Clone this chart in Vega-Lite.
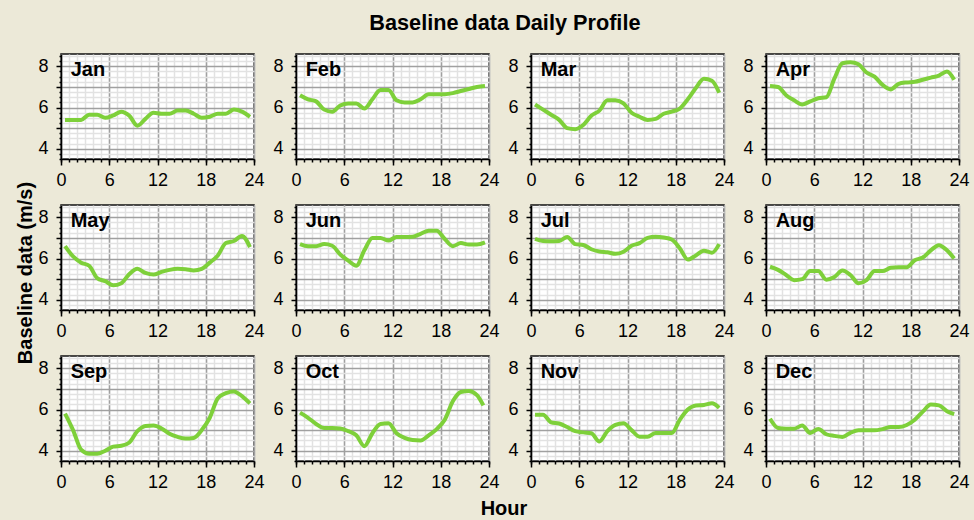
{
  "$schema": "https://vega.github.io/schema/vega-lite/v6.json",
  "background": "#ECE9D8",
  "padding": {"left": 15, "top": 12, "right": 5, "bottom": 5},
  "title": {"text": "Baseline data Daily Profile", "fontSize": 21.7, "fontWeight": "bold", "font": "Liberation Sans", "color": "black", "offset": 19, "anchor": "middle", "dx": 12},
  "config": {
    "view": {"stroke": "#111111", "strokeWidth": 1.5, "fill": "white"},
    "font": "Liberation Sans",
    "axis": {"labelFont": "Liberation Sans", "labelColor": "black", "tickColor": "black", "domainColor": "black"}
  },
  "data": {"values": [
    {"m":"Jan","h":0.5,"v":5.4},{"m":"Jan","h":1.5,"v":5.4},{"m":"Jan","h":2.5,"v":5.4},{"m":"Jan","h":3.5,"v":5.65},{"m":"Jan","h":4.5,"v":5.65},{"m":"Jan","h":5.5,"v":5.5},{"m":"Jan","h":6.5,"v":5.62},{"m":"Jan","h":7.5,"v":5.8},{"m":"Jan","h":8.5,"v":5.6},{"m":"Jan","h":9.5,"v":5.12},{"m":"Jan","h":10.5,"v":5.45},{"m":"Jan","h":11.5,"v":5.75},{"m":"Jan","h":12.5,"v":5.7},{"m":"Jan","h":13.5,"v":5.7},{"m":"Jan","h":14.5,"v":5.85},{"m":"Jan","h":15.5,"v":5.85},{"m":"Jan","h":16.5,"v":5.7},{"m":"Jan","h":17.5,"v":5.5},{"m":"Jan","h":18.5,"v":5.55},{"m":"Jan","h":19.5,"v":5.7},{"m":"Jan","h":20.5,"v":5.7},{"m":"Jan","h":21.5,"v":5.9},{"m":"Jan","h":22.5,"v":5.8},{"m":"Jan","h":23.5,"v":5.55},
    {"m":"Feb","h":0.5,"v":6.6},{"m":"Feb","h":1.5,"v":6.4},{"m":"Feb","h":2.5,"v":6.3},{"m":"Feb","h":3.5,"v":5.9},{"m":"Feb","h":4.5,"v":5.8},{"m":"Feb","h":5.5,"v":6.1},{"m":"Feb","h":6.5,"v":6.2},{"m":"Feb","h":7.5,"v":6.2},{"m":"Feb","h":8.5,"v":5.95},{"m":"Feb","h":9.5,"v":6.4},{"m":"Feb","h":10.5,"v":6.85},{"m":"Feb","h":11.5,"v":6.85},{"m":"Feb","h":12.5,"v":6.35},{"m":"Feb","h":13.5,"v":6.25},{"m":"Feb","h":14.5,"v":6.25},{"m":"Feb","h":15.5,"v":6.4},{"m":"Feb","h":16.5,"v":6.65},{"m":"Feb","h":17.5,"v":6.65},{"m":"Feb","h":18.5,"v":6.65},{"m":"Feb","h":19.5,"v":6.7},{"m":"Feb","h":20.5,"v":6.8},{"m":"Feb","h":21.5,"v":6.9},{"m":"Feb","h":22.5,"v":7.0},{"m":"Feb","h":23.5,"v":7.05},
    {"m":"Mar","h":0.5,"v":6.15},{"m":"Mar","h":1.5,"v":5.9},{"m":"Mar","h":2.5,"v":5.65},{"m":"Mar","h":3.5,"v":5.4},{"m":"Mar","h":4.5,"v":5.0},{"m":"Mar","h":5.5,"v":4.95},{"m":"Mar","h":6.5,"v":5.15},{"m":"Mar","h":7.5,"v":5.6},{"m":"Mar","h":8.5,"v":5.85},{"m":"Mar","h":9.5,"v":6.35},{"m":"Mar","h":10.5,"v":6.35},{"m":"Mar","h":11.5,"v":6.2},{"m":"Mar","h":12.5,"v":5.75},{"m":"Mar","h":13.5,"v":5.55},{"m":"Mar","h":14.5,"v":5.4},{"m":"Mar","h":15.5,"v":5.45},{"m":"Mar","h":16.5,"v":5.7},{"m":"Mar","h":17.5,"v":5.8},{"m":"Mar","h":18.5,"v":5.95},{"m":"Mar","h":19.5,"v":6.4},{"m":"Mar","h":20.5,"v":6.95},{"m":"Mar","h":21.5,"v":7.4},{"m":"Mar","h":22.5,"v":7.3},{"m":"Mar","h":23.4,"v":6.72},
    {"m":"Apr","h":0.5,"v":7.05},{"m":"Apr","h":1.5,"v":7.0},{"m":"Apr","h":2.5,"v":6.6},{"m":"Apr","h":3.5,"v":6.35},{"m":"Apr","h":4.5,"v":6.15},{"m":"Apr","h":5.5,"v":6.3},{"m":"Apr","h":6.5,"v":6.45},{"m":"Apr","h":7.5,"v":6.5},{"m":"Apr","h":8.5,"v":7.4},{"m":"Apr","h":9.5,"v":8.15},{"m":"Apr","h":10.5,"v":8.2},{"m":"Apr","h":11.5,"v":8.1},{"m":"Apr","h":12.5,"v":7.7},{"m":"Apr","h":13.5,"v":7.5},{"m":"Apr","h":14.5,"v":7.1},{"m":"Apr","h":15.5,"v":6.88},{"m":"Apr","h":16.5,"v":7.15},{"m":"Apr","h":17.5,"v":7.22},{"m":"Apr","h":18.5,"v":7.25},{"m":"Apr","h":19.5,"v":7.35},{"m":"Apr","h":20.5,"v":7.45},{"m":"Apr","h":21.5,"v":7.55},{"m":"Apr","h":22.5,"v":7.75},{"m":"Apr","h":23.4,"v":7.35},
    {"m":"May","h":0.5,"v":6.6},{"m":"May","h":1.5,"v":6.1},{"m":"May","h":2.5,"v":5.8},{"m":"May","h":3.5,"v":5.65},{"m":"May","h":4.5,"v":5.05},{"m":"May","h":5.5,"v":4.9},{"m":"May","h":6.5,"v":4.7},{"m":"May","h":7.5,"v":4.8},{"m":"May","h":8.5,"v":5.25},{"m":"May","h":9.5,"v":5.5},{"m":"May","h":10.5,"v":5.3},{"m":"May","h":11.5,"v":5.22},{"m":"May","h":12.5,"v":5.35},{"m":"May","h":13.5,"v":5.45},{"m":"May","h":14.5,"v":5.5},{"m":"May","h":15.5,"v":5.48},{"m":"May","h":16.5,"v":5.42},{"m":"May","h":17.5,"v":5.5},{"m":"May","h":18.5,"v":5.8},{"m":"May","h":19.5,"v":6.15},{"m":"May","h":20.5,"v":6.75},{"m":"May","h":21.5,"v":6.85},{"m":"May","h":22.5,"v":7.1},{"m":"May","h":23.5,"v":6.55},
    {"m":"Jun","h":0.5,"v":6.7},{"m":"Jun","h":1.5,"v":6.6},{"m":"Jun","h":2.5,"v":6.6},{"m":"Jun","h":3.5,"v":6.7},{"m":"Jun","h":4.5,"v":6.62},{"m":"Jun","h":5.5,"v":6.2},{"m":"Jun","h":6.5,"v":5.9},{"m":"Jun","h":7.5,"v":5.65},{"m":"Jun","h":8.5,"v":6.4},{"m":"Jun","h":9.5,"v":7.0},{"m":"Jun","h":10.5,"v":7.0},{"m":"Jun","h":11.5,"v":6.87},{"m":"Jun","h":12.5,"v":7.05},{"m":"Jun","h":13.5,"v":7.05},{"m":"Jun","h":14.5,"v":7.06},{"m":"Jun","h":15.5,"v":7.2},{"m":"Jun","h":16.5,"v":7.35},{"m":"Jun","h":17.5,"v":7.35},{"m":"Jun","h":18.5,"v":6.95},{"m":"Jun","h":19.5,"v":6.6},{"m":"Jun","h":20.5,"v":6.75},{"m":"Jun","h":21.5,"v":6.68},{"m":"Jun","h":22.5,"v":6.68},{"m":"Jun","h":23.5,"v":6.78},
    {"m":"Jul","h":0.5,"v":6.95},{"m":"Jul","h":1.5,"v":6.85},{"m":"Jul","h":2.5,"v":6.84},{"m":"Jul","h":3.5,"v":6.85},{"m":"Jul","h":4.5,"v":7.05},{"m":"Jul","h":5.5,"v":6.7},{"m":"Jul","h":6.5,"v":6.66},{"m":"Jul","h":7.5,"v":6.45},{"m":"Jul","h":8.5,"v":6.34},{"m":"Jul","h":9.5,"v":6.3},{"m":"Jul","h":10.5,"v":6.23},{"m":"Jul","h":11.5,"v":6.33},{"m":"Jul","h":12.5,"v":6.62},{"m":"Jul","h":13.5,"v":6.75},{"m":"Jul","h":14.5,"v":7.0},{"m":"Jul","h":15.5,"v":7.06},{"m":"Jul","h":16.5,"v":7.02},{"m":"Jul","h":17.5,"v":6.92},{"m":"Jul","h":18.5,"v":6.5},{"m":"Jul","h":19.5,"v":5.95},{"m":"Jul","h":20.5,"v":6.15},{"m":"Jul","h":21.5,"v":6.38},{"m":"Jul","h":22.5,"v":6.28},{"m":"Jul","h":23.4,"v":6.7},
    {"m":"Aug","h":0.5,"v":5.6},{"m":"Aug","h":1.5,"v":5.45},{"m":"Aug","h":2.5,"v":5.2},{"m":"Aug","h":3.5,"v":4.95},{"m":"Aug","h":4.5,"v":5.0},{"m":"Aug","h":5.5,"v":5.4},{"m":"Aug","h":6.5,"v":5.4},{"m":"Aug","h":7.5,"v":4.97},{"m":"Aug","h":8.5,"v":5.1},{"m":"Aug","h":9.5,"v":5.42},{"m":"Aug","h":10.5,"v":5.2},{"m":"Aug","h":11.5,"v":4.8},{"m":"Aug","h":12.5,"v":4.95},{"m":"Aug","h":13.5,"v":5.39},{"m":"Aug","h":14.5,"v":5.39},{"m":"Aug","h":15.5,"v":5.55},{"m":"Aug","h":16.5,"v":5.58},{"m":"Aug","h":17.5,"v":5.58},{"m":"Aug","h":18.5,"v":5.92},{"m":"Aug","h":19.5,"v":6.05},{"m":"Aug","h":20.5,"v":6.4},{"m":"Aug","h":21.5,"v":6.65},{"m":"Aug","h":22.5,"v":6.4},{"m":"Aug","h":23.4,"v":6.0},
    {"m":"Sep","h":0.5,"v":5.8},{"m":"Sep","h":1.5,"v":5.0},{"m":"Sep","h":2.5,"v":4.05},{"m":"Sep","h":3.5,"v":3.85},{"m":"Sep","h":4.5,"v":3.85},{"m":"Sep","h":5.5,"v":4.0},{"m":"Sep","h":6.5,"v":4.2},{"m":"Sep","h":7.5,"v":4.24},{"m":"Sep","h":8.5,"v":4.4},{"m":"Sep","h":9.5,"v":4.95},{"m":"Sep","h":10.5,"v":5.2},{"m":"Sep","h":11.5,"v":5.22},{"m":"Sep","h":12.5,"v":5.08},{"m":"Sep","h":13.5,"v":4.82},{"m":"Sep","h":14.5,"v":4.67},{"m":"Sep","h":15.5,"v":4.59},{"m":"Sep","h":16.5,"v":4.62},{"m":"Sep","h":17.5,"v":5.0},{"m":"Sep","h":18.5,"v":5.6},{"m":"Sep","h":19.5,"v":6.55},{"m":"Sep","h":20.5,"v":6.8},{"m":"Sep","h":21.5,"v":6.88},{"m":"Sep","h":22.5,"v":6.65},{"m":"Sep","h":23.5,"v":6.3},
    {"m":"Oct","h":0.5,"v":5.85},{"m":"Oct","h":1.5,"v":5.6},{"m":"Oct","h":2.5,"v":5.3},{"m":"Oct","h":3.5,"v":5.1},{"m":"Oct","h":4.5,"v":5.1},{"m":"Oct","h":5.5,"v":5.08},{"m":"Oct","h":6.5,"v":4.95},{"m":"Oct","h":7.5,"v":4.75},{"m":"Oct","h":8.5,"v":4.22},{"m":"Oct","h":9.5,"v":4.85},{"m":"Oct","h":10.5,"v":5.3},{"m":"Oct","h":11.5,"v":5.33},{"m":"Oct","h":12.5,"v":4.85},{"m":"Oct","h":13.5,"v":4.62},{"m":"Oct","h":14.5,"v":4.52},{"m":"Oct","h":15.5,"v":4.5},{"m":"Oct","h":16.5,"v":4.75},{"m":"Oct","h":17.5,"v":5.05},{"m":"Oct","h":18.5,"v":5.5},{"m":"Oct","h":19.5,"v":6.4},{"m":"Oct","h":20.5,"v":6.85},{"m":"Oct","h":21.5,"v":6.9},{"m":"Oct","h":22.5,"v":6.7},{"m":"Oct","h":23.3,"v":6.2},
    {"m":"Nov","h":0.5,"v":5.75},{"m":"Nov","h":1.5,"v":5.75},{"m":"Nov","h":2.5,"v":5.38},{"m":"Nov","h":3.5,"v":5.32},{"m":"Nov","h":4.5,"v":5.15},{"m":"Nov","h":5.5,"v":4.95},{"m":"Nov","h":6.5,"v":4.89},{"m":"Nov","h":7.5,"v":4.85},{"m":"Nov","h":8.5,"v":4.45},{"m":"Nov","h":9.5,"v":4.95},{"m":"Nov","h":10.5,"v":5.25},{"m":"Nov","h":11.5,"v":5.33},{"m":"Nov","h":12.5,"v":5.0},{"m":"Nov","h":13.5,"v":4.68},{"m":"Nov","h":14.5,"v":4.68},{"m":"Nov","h":15.5,"v":4.86},{"m":"Nov","h":16.5,"v":4.86},{"m":"Nov","h":17.5,"v":4.86},{"m":"Nov","h":18.5,"v":5.5},{"m":"Nov","h":19.5,"v":6.0},{"m":"Nov","h":20.5,"v":6.2},{"m":"Nov","h":21.5,"v":6.22},{"m":"Nov","h":22.5,"v":6.3},{"m":"Nov","h":23.4,"v":6.08},
    {"m":"Dec","h":0.5,"v":5.55},{"m":"Dec","h":1.5,"v":5.1},{"m":"Dec","h":2.5,"v":5.07},{"m":"Dec","h":3.5,"v":5.07},{"m":"Dec","h":4.5,"v":5.22},{"m":"Dec","h":5.5,"v":4.86},{"m":"Dec","h":6.5,"v":5.06},{"m":"Dec","h":7.5,"v":4.8},{"m":"Dec","h":8.5,"v":4.72},{"m":"Dec","h":9.5,"v":4.67},{"m":"Dec","h":10.5,"v":4.87},{"m":"Dec","h":11.5,"v":4.99},{"m":"Dec","h":12.5,"v":4.99},{"m":"Dec","h":13.5,"v":4.99},{"m":"Dec","h":14.5,"v":5.05},{"m":"Dec","h":15.5,"v":5.15},{"m":"Dec","h":16.5,"v":5.15},{"m":"Dec","h":17.5,"v":5.25},{"m":"Dec","h":18.5,"v":5.5},{"m":"Dec","h":19.5,"v":5.9},{"m":"Dec","h":20.5,"v":6.24},{"m":"Dec","h":21.5,"v":6.2},{"m":"Dec","h":22.5,"v":5.92},{"m":"Dec","h":23.4,"v":5.78}
  ]},
  "transform": [
    {"calculate": "indexof(['Jan','Feb','Mar','Apr','May','Jun','Jul','Aug','Sep','Oct','Nov','Dec'], datum.m)", "as": "i"},
    {"calculate": "floor(datum.i / 4)", "as": "r"},
    {"calculate": "datum.i % 4", "as": "c"}
  ],
  "facet": {
    "row": {"field": "r", "type": "ordinal", "header": {"title": "Baseline data (m/s)", "labels": false, "titleFont": "Liberation Sans", "titleFontSize": 20, "titleFontWeight": "bold", "titleColor": "black", "titlePadding": 15}},
    "column": {"field": "c", "type": "ordinal", "header": {"title": "Hour", "titleOrient": "bottom", "labels": false, "titleFont": "Liberation Sans", "titleFontSize": 20, "titleFontWeight": "bold", "titleColor": "black", "titlePadding": 28}}
  },
  "spacing": {"row": 46, "column": 42},
  "bounds": "flush",
  "resolve": {"axis": {"x": "independent", "y": "independent"}},
  "spec": {
    "width": 193,
    "height": 105,
    "layer": [
      {
        "mark": {"type": "line", "opacity": 0},
        "encoding": {
          "x": {"field": "h", "type": "quantitative", "scale": {"domain": [0, 24], "nice": false, "zero": false},
                "axis": {"orient": "bottom", "title": null, "values": [0,1,2,3,4,5,6,7,8,9,10,11,12,13,14,15,16,17,18,19,20,21,22,23,24], "labels": false, "domain": false, "grid": true, "gridColor": "#E2E2E2", "gridWidth": 1.5, "tickSize": 3, "tickWidth": 1.5}},
          "y": {"field": "v", "type": "quantitative", "scale": {"domain": [3.5, 8.6], "nice": false, "zero": false},
                "axis": {"orient": "left", "title": null, "values": [3.5,3.75,4.25,4.5,4.75,5.25,5.5,5.75,6.25,6.5,6.75,7.25,7.5,7.75,8.25,8.5], "labels": false, "domain": false, "grid": true, "gridColor": "#E2E2E2", "gridWidth": 1.5, "tickSize": 2, "tickWidth": 1.5}}
        }
      },
      {
        "mark": {"type": "line", "color": "#7ED03A", "strokeWidth": 4, "interpolate": "monotone"},
        "encoding": {
          "x": {"field": "h", "type": "quantitative",
                "axis": {"orient": "bottom", "title": null, "values": [0,6,12,18,24], "labelFontSize": 18, "labelPadding": 6, "domain": true, "domainWidth": 1.5, "grid": true, "gridColor": "#A0A0A0", "gridWidth": 1.5, "tickSize": 6, "tickWidth": 1.5, "labelFlush": false}},
          "y": {"field": "v", "type": "quantitative",
                "axis": {"orient": "left", "title": null, "values": [4,5,6,7,8], "labelExpr": "datum.value % 2 == 0 ? datum.label : ''", "labelFontSize": 18, "labelPadding": 8, "domain": true, "domainWidth": 1.5, "grid": true, "gridColor": "#A0A0A0", "gridWidth": 1.5, "tickSize": 5, "tickWidth": 1.5}}
        }
      },
      {
        "transform": [{"filter": "datum.h == 0.5"}],
        "mark": {"type": "text", "align": "left", "baseline": "alphabetic", "fontSize": 20, "fontWeight": "bold", "font": "Liberation Sans", "color": "black"},
        "encoding": {
          "x": {"datum": 1.2, "type": "quantitative", "axis": null},
          "y": {"datum": 7.55, "type": "quantitative", "axis": null},
          "text": {"field": "m"}
        }
      }
    ],
    "resolve": {"axis": {"x": "independent", "y": "independent"}}
  }
}
